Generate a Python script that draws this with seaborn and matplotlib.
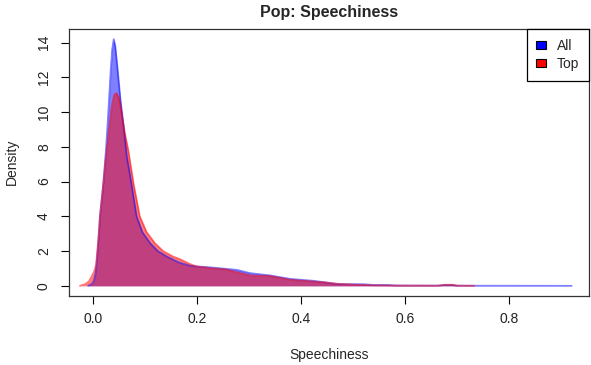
import matplotlib
matplotlib.use("Agg")
import matplotlib.pyplot as plt
from matplotlib.patches import Patch
import numpy as np
import pandas as pd
import seaborn as sns

# Kernel density estimates of speechiness: all pop tracks vs. top tracks
all_x = [-0.009, -0.002, 0.002, 0.005, 0.008, 0.011, 0.0135, 0.017, 0.020, 0.025,
         0.028, 0.031, 0.034, 0.037, 0.040, 0.043, 0.047, 0.053, 0.059, 0.065,
         0.074, 0.084, 0.095, 0.110, 0.125, 0.142, 0.165, 0.185, 0.199, 0.231,
         0.255, 0.276, 0.302, 0.340, 0.379, 0.423, 0.449, 0.470, 0.520, 0.540,
         0.567, 0.580, 0.660, 0.675, 0.690, 0.700, 0.750, 0.920]
all_y = [0.0, 0.1, 0.3, 0.7, 1.6, 2.8, 4.0, 5.0, 5.9, 7.8,
         9.2, 10.7, 12.3, 13.6, 14.2, 13.8, 12.6, 10.7, 9.2, 7.5,
         5.9, 4.0, 3.1, 2.46, 2.0, 1.69, 1.35, 1.17, 1.12, 1.05,
         0.98, 0.92, 0.73, 0.60, 0.40, 0.29, 0.19, 0.10, 0.09, 0.05,
         0.05, 0.02, 0.01, 0.05, 0.05, 0.01, 0.005, 0.0]

top_x = [-0.025, -0.015, -0.008, -0.0025, 0.002, 0.006, 0.009, 0.012, 0.0135, 0.017,
         0.020, 0.025, 0.031, 0.036, 0.041, 0.0456, 0.050, 0.055, 0.060, 0.068,
         0.078, 0.090, 0.103, 0.119, 0.135, 0.154, 0.167, 0.187, 0.199, 0.231,
         0.255, 0.276, 0.302, 0.340, 0.379, 0.423, 0.449, 0.470, 0.500, 0.540,
         0.600, 0.665, 0.677, 0.692, 0.700, 0.733]
top_y = [0.0, 0.1, 0.25, 0.54, 0.8, 1.2, 2.2, 3.3, 4.0, 5.0,
         5.9, 7.4, 9.0, 10.3, 11.0, 11.1, 10.8, 10.0, 9.0, 7.8,
         5.9, 4.0, 3.1, 2.46, 2.0, 1.69, 1.54, 1.25, 1.12, 1.0,
         0.95, 0.79, 0.60, 0.57, 0.35, 0.25, 0.19, 0.12, 0.07, 0.03,
         0.01, 0.01, 0.06, 0.06, 0.01, 0.0]

series_names = ["All", "Top"]
x_ticks = [0.0, 0.2, 0.4, 0.6, 0.8]
y_ticks = [0, 2, 4, 6, 8, 10, 12, 14]

sns.set_style("white")
plt.rcParams["font.family"] = ["Liberation Sans", "DejaVu Sans"]

fig = plt.figure(figsize=(5.91, 3.65), dpi=100)
ax = fig.add_axes([69 / 591, 1 - 295.7 / 365, (589.3 - 69) / 591, (295.7 - 29.3) / 365])

df_all = pd.DataFrame({"x": all_x, "y": all_y})
df_top = pd.DataFrame({"x": top_x, "y": top_y})

blue = (0, 0, 1, 0.5)
red = (1, 0, 0, 0.5)

ax.fill_between(df_all["x"], df_all["y"], 0, color=blue, linewidth=0)
sns.lineplot(data=df_all, x="x", y="y", ax=ax, sort=False, color="blue",
             alpha=0.5, linewidth=1.3)
ax.fill_between(df_top["x"], df_top["y"], 0, color=red, linewidth=0)
sns.lineplot(data=df_top, x="x", y="y", ax=ax, sort=False, color="red",
             alpha=0.5, linewidth=1.3)

ax.set_xlim(-0.046, 0.954)
ax.set_ylim(-0.568, 14.77)
ax.set_xticks(x_ticks)
ax.set_xticklabels([f"{t:.1f}" for t in x_ticks])
ax.set_yticks(y_ticks)
ax.set_yticklabels([str(t) for t in y_ticks], rotation=90, va="center")
ax.tick_params(axis="both", direction="out", length=6, width=0.8, color="black",
               labelsize=10, labelcolor="#222222", left=True, bottom=True)
ax.tick_params(axis="x", pad=6)
ax.tick_params(axis="y", pad=7)
for s in ax.spines.values():
    s.set_visible(True)
    s.set_color("#333333")
    s.set_linewidth(0.9)

ax.set_xlabel("")
ax.set_ylabel("")
fig.text(329 / 591, 1 - 355 / 365, "Speechiness", ha="center", va="center", fontsize=10)
fig.text(12 / 591, 1 - 162 / 365, "Density", ha="center", va="center", fontsize=10,
         rotation=90)
fig.text(329 / 591, 1 - 13 / 365, "Pop: Speechiness", ha="center", va="center",
         fontsize=11.5, fontweight="bold")

handles = [Patch(facecolor="blue", edgecolor="black", linewidth=0.8),
           Patch(facecolor="red", edgecolor="black", linewidth=0.8)]
leg = ax.legend(handles, series_names, loc="upper right", bbox_to_anchor=(1, 1),
                borderaxespad=0, fancybox=False, framealpha=1, edgecolor="black",
                fontsize=10, handlelength=0.7, handleheight=0.55,
                handletextpad=0.8, labelspacing=0.3, borderpad=0.7)
leg.get_frame().set_linewidth(0.9)

fig.savefig("out.png", dpi=100)
